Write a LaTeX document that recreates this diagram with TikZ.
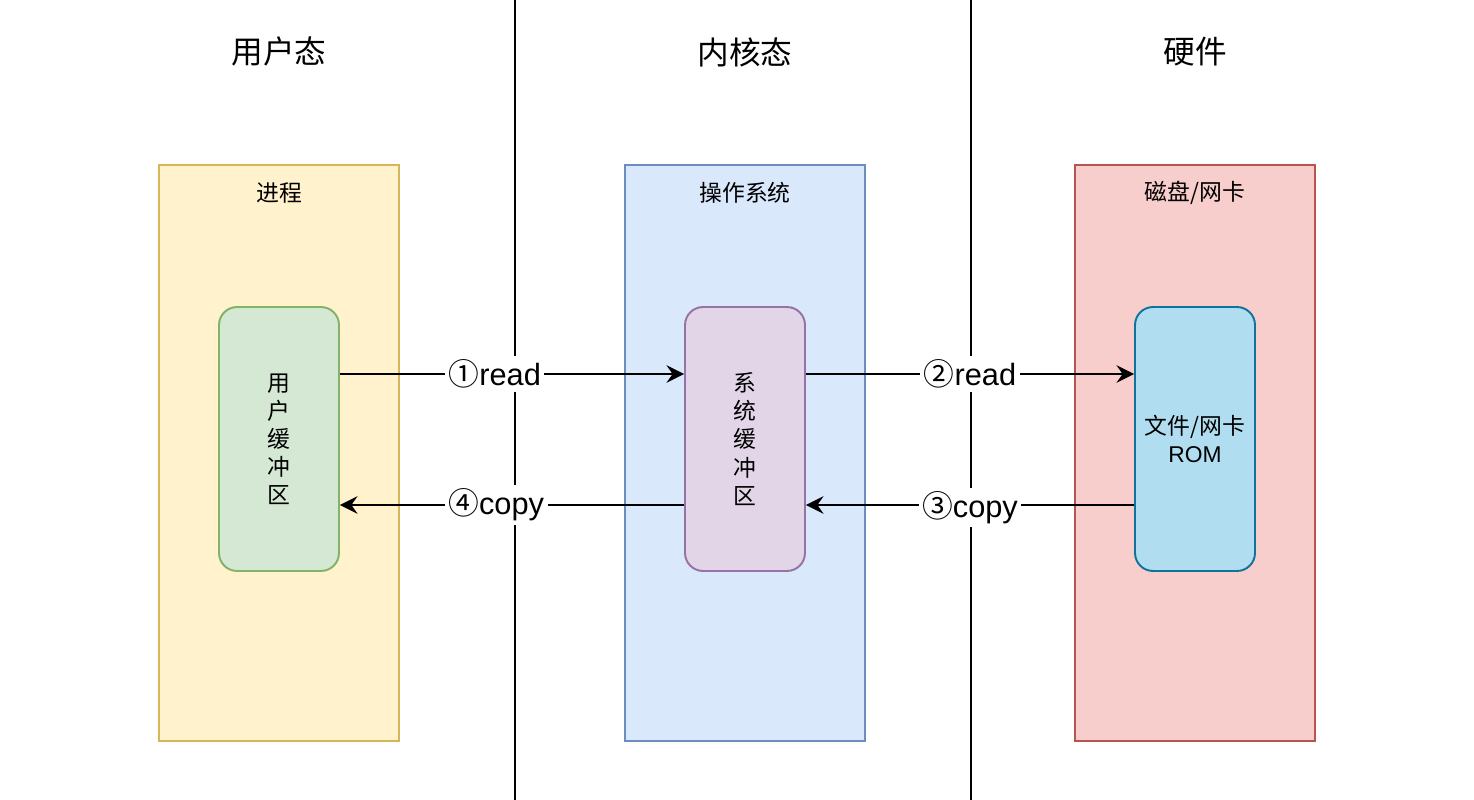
\documentclass[tikz,border=0pt]{standalone}
\usepackage{fontspec}
\setmainfont{Liberation Sans}
\newfontfamily\cjk{Noto Sans CJK SC}
\usetikzlibrary{arrows.meta}

\definecolor{procfill}{HTML}{FFF2CC}
\definecolor{procdraw}{HTML}{D6B656}
\definecolor{osfill}{HTML}{DAE8FC}
\definecolor{osdraw}{HTML}{6C8EBF}
\definecolor{hwfill}{HTML}{F8CECC}
\definecolor{hwdraw}{HTML}{B85450}
\definecolor{ubuffill}{HTML}{D5E8D4}
\definecolor{ubufdraw}{HTML}{82B366}
\definecolor{kbuffill}{HTML}{E1D5E7}
\definecolor{kbufdraw}{HTML}{9673A6}
\definecolor{romfill}{HTML}{B1DDF0}
\definecolor{romdraw}{HTML}{10739E}

\tikzset{
  layer/.style={draw, line width=1.1pt, minimum width=4.8cm, minimum height=11.52cm},
  buffer/.style={draw, line width=1.1pt, rounded corners=0.36cm, minimum width=2.4cm,
    minimum height=5.28cm, align=center, font=\fontsize{13}{16}\selectfont},
  title/.style={font=\cjk\fontsize{18}{22}\selectfont},
  boxlabel/.style={font=\cjk\fontsize{13}{16}\selectfont},
  flow/.style={line width=1.1pt, -{Stealth[length=10pt,width=10pt,inset=3.5pt]}},
  steplabel/.style={fill=white, inner sep=2pt, font=\fontsize{17.5}{20}\selectfont}
}

\begin{document}
\begin{tikzpicture}[x=0.02cm,y=-0.02cm]
\useasboundingbox (0,0) rectangle (1474,800);

% dividers
\draw[line width=1.1pt] (515,0) -- (515,800);
\draw[line width=1.1pt] (971,0) -- (971,800);

\node[title] (t1) at (279,52) {用户态};
\node[title] (t2) at (745,52) {内核态};
\node[title] (t3) at (1195,52) {硬件};

% layers
\node[layer, fill=procfill, draw=procdraw] (proc) at (279,453) {};
\node[layer, fill=osfill, draw=osdraw] (os) at (745,453) {};
\node[layer, fill=hwfill, draw=hwdraw] (hw) at (1195,453) {};

\node[boxlabel] (l1) at (279,193) {进程};
\node[boxlabel] (l2) at (745,193) {操作系统};
\node[boxlabel] (l3) at (1195,193) {磁盘/网卡};

% buffers
\node[buffer, fill=ubuffill, draw=ubufdraw, font=\cjk\fontsize{13}{16}\selectfont] (ubuf) at (279,439) {用\\户\\缓\\冲\\区};
\node[buffer, fill=kbuffill, draw=kbufdraw, font=\cjk\fontsize{13}{16}\selectfont] (kbuf) at (745,439) {系\\统\\缓\\冲\\区};
\node[buffer, fill=romfill, draw=romdraw] (rom) at (1195,439) {{\cjk 文件/网卡}\\ROM};

% read / copy
\draw[flow] ([yshift=1.3cm]ubuf.east) -- node[steplabel, pos=0.45] {{\cjk ①}read} ([yshift=1.3cm]kbuf.west);
\draw[flow] ([yshift=1.3cm]kbuf.east) -- node[steplabel] {{\cjk ②}read} ([yshift=1.3cm]rom.west);
\draw[flow] ([yshift=-1.32cm]rom.west) -- node[steplabel, yshift=-0.05cm] {{\cjk ③}copy} ([yshift=-1.32cm]kbuf.east);
\draw[flow] ([yshift=-1.32cm]kbuf.west) -- node[steplabel, pos=0.546] {{\cjk ④}copy} ([yshift=-1.32cm]ubuf.east);
\end{tikzpicture}
\end{document}
